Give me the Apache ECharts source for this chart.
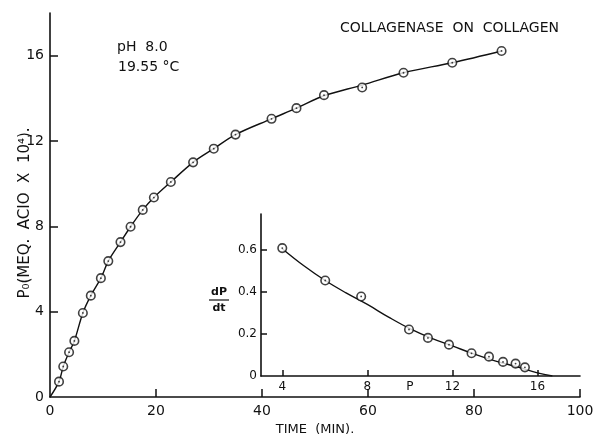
<!DOCTYPE html>
<html>
<head>
<meta charset="utf-8">
<script src="https://cdn.jsdelivr.net/npm/echarts@6.0.0/dist/echarts.min.js"></script>
<style>html,body{margin:0;padding:0;background:#fff}#c{width:596px;height:436px}</style>
</head>
<body>
<div id="c"></div>
<script>
// Main curve: time (min) vs P (meq acid x 10^4)
var mainTime = [0, 1.7, 2.5, 3.6, 4.6, 6.2, 7.7, 9.6, 11.0, 13.3, 15.2, 17.5, 19.6, 22.8, 27.0, 30.9, 35.0, 41.8, 46.5, 51.7, 58.9, 66.7, 75.9, 85.2];
var mainP    = [0, 0.72, 1.43, 2.1, 2.63, 3.94, 4.75, 5.57, 6.37, 7.26, 7.98, 8.77, 9.35, 10.08, 11.0, 11.64, 12.30, 13.04, 13.54, 14.15, 14.51, 15.2, 15.67, 16.22];
// Main drawn curve
var curveTime = [0, 1.7, 2.5, 3.6, 4.6, 6.2, 7.7, 9.6, 11.0, 13.3, 15.2, 17.5, 19.6, 22.8, 27.0, 30.9, 35.0, 41.8, 46.5, 51.7, 58.9, 66.7, 75.9, 85.2];
var curveP    = [0, 0.72, 1.43, 2.1, 2.63, 3.94, 4.75, 5.57, 6.37, 7.26, 7.98, 8.77, 9.35, 10.08, 11.0, 11.64, 12.30, 13.04, 13.54, 14.12, 14.62, 15.2, 15.67, 16.22];
// Inset: P vs dP/dt
var insetP    = [4.0, 6.02, 7.71, 9.96, 10.85, 11.84, 12.9, 13.72, 14.38, 14.97, 15.41];
var insetRate = [0.608, 0.454, 0.378, 0.221, 0.181, 0.149, 0.108, 0.092, 0.067, 0.059, 0.041];
// Inset fitted curve
var fitP    = [4, 5, 6, 7, 8, 9, 10, 11, 12, 13, 14, 15, 16, 16.7];
var fitRate = [0.605, 0.525, 0.455, 0.395, 0.34, 0.28, 0.225, 0.18, 0.143, 0.105, 0.072, 0.045, 0.015, 0];
// Tick labels
var mainXTicks = [0, 20, 40, 60, 80, 100];
var mainYTicks = [0, 4, 8, 12, 16];
var insetXTicks = [4, 8, 12, 16];
var insetXLabels = [4, 8, 10, 12, 16];
var insetYTicks = [0, 0.2, 0.4, 0.6];

var INK = '#111';
var FONT = 'DejaVu Sans';

function pairs(xs, ys, from) {
  var out = [];
  for (var i = from || 0; i < xs.length; i++) out.push([xs[i], ys[i]]);
  return out;
}

var chart = echarts.init(document.getElementById('c'), null, {renderer: 'canvas'});

var axisCommon = {
  axisLine: {show: true, lineStyle: {color: INK, width: 1.6}},
  splitLine: {show: false},
  axisTick: {show: true, inside: true, length: 8, lineStyle: {color: INK, width: 1.5}},
  axisLabel: {color: INK, fontFamily: FONT, fontSize: 14}
};

var option = {
  animation: false,
  backgroundColor: '#fff',
  grid: [
    {left: 50, right: 16, top: 13, bottom: 39, containLabel: false, outerBoundsMode: 'none'},
    {left: 261, right: 16, top: 214, bottom: 60, containLabel: false, outerBoundsMode: 'none'}
  ],
  xAxis: [
    echarts.util.merge({
      type: 'value', gridIndex: 0, min: 0, max: 100, interval: 20,
      name: 'TIME  (MIN).', nameLocation: 'middle', nameGap: 25,
      nameTextStyle: {color: INK, fontFamily: FONT, fontSize: 13},
      axisTick: {customValues: mainXTicks.slice(1)},
      axisLabel: {customValues: mainXTicks, margin: 7}
    }, axisCommon),
    echarts.util.merge({
      type: 'value', gridIndex: 1, min: 3, max: 18,
      axisTick: {customValues: insetXTicks, length: 6},
      axisLabel: {customValues: insetXLabels, fontSize: 12, margin: 5,
        formatter: function (v) { return v === 10 ? 'P' : String(v); }}
    }, axisCommon)
  ],
  yAxis: [
    echarts.util.merge({
      type: 'value', gridIndex: 0, min: 0, max: 18, interval: 4,
      axisTick: {customValues: mainYTicks.slice(1)},
      axisLabel: {customValues: mainYTicks, margin: 6}
    }, axisCommon),
    echarts.util.merge({
      type: 'value', gridIndex: 1, min: 0, max: 0.77,
      axisTick: {customValues: insetYTicks.slice(1), length: 6},
      axisLabel: {customValues: insetYTicks, fontSize: 12, margin: 4}
    }, axisCommon)
  ],
  series: [
    {
      type: 'line', xAxisIndex: 0, yAxisIndex: 0, data: pairs(curveTime, curveP),
      smooth: 0.35, showSymbol: false, lineStyle: {color: INK, width: 1.4}, z: 2
    },
    {
      type: 'scatter', xAxisIndex: 0, yAxisIndex: 0, data: pairs(mainTime, mainP, 1),
      symbol: 'circle', symbolSize: 8.5,
      itemStyle: {color: '#fff', borderColor: INK, borderWidth: 1.6}, z: 3
    },
    {
      type: 'scatter', xAxisIndex: 0, yAxisIndex: 0, data: pairs(mainTime, mainP, 1),
      symbol: 'circle', symbolSize: 1.8, itemStyle: {color: INK}, z: 4
    },
    {
      type: 'line', xAxisIndex: 1, yAxisIndex: 1, data: pairs(fitP, fitRate),
      smooth: 0.4, showSymbol: false, lineStyle: {color: INK, width: 1.4}, z: 2
    },
    {
      type: 'scatter', xAxisIndex: 1, yAxisIndex: 1, data: pairs(insetP, insetRate),
      symbol: 'circle', symbolSize: 8.5,
      itemStyle: {color: '#fff', borderColor: INK, borderWidth: 1.6}, z: 3
    },
    {
      type: 'scatter', xAxisIndex: 1, yAxisIndex: 1, data: pairs(insetP, insetRate),
      symbol: 'circle', symbolSize: 1.8, itemStyle: {color: INK}, z: 4
    }
  ],
  graphic: [
    {type: 'text', x: 25, y: 213, rotation: Math.PI / 2,
      style: {text: 'P\u2080(MEQ.  ACIO  X  10\u2074).', fill: INK, font: '15px "DejaVu Sans"', align: 'center', verticalAlign: 'middle'}},
    {type: 'text', left: 340, top: 21, style: {text: 'COLLAGENASE  ON  COLLAGEN', fill: INK, font: '14px "DejaVu Sans"'}},
    {type: 'text', left: 117, top: 40, style: {text: 'pH  8.0', fill: INK, font: '14px "DejaVu Sans"'}},
    {type: 'text', left: 118, top: 60, style: {text: '19.55 \u00B0C', fill: INK, font: '14px "DejaVu Sans"'}},
    {type: 'text', x: 219, y: 292, style: {text: 'dP', fill: INK, font: 'bold 11px "DejaVu Sans"', align: 'center', verticalAlign: 'middle'}},
    {type: 'line', shape: {x1: 209, y1: 300, x2: 229, y2: 300}, style: {stroke: INK, lineWidth: 1.2}},
    {type: 'text', x: 219, y: 308, style: {text: 'dt', fill: INK, font: 'bold 11px "DejaVu Sans"', align: 'center', verticalAlign: 'middle'}}
  ]
};
chart.setOption(option);
</script>
</body>
</html>
